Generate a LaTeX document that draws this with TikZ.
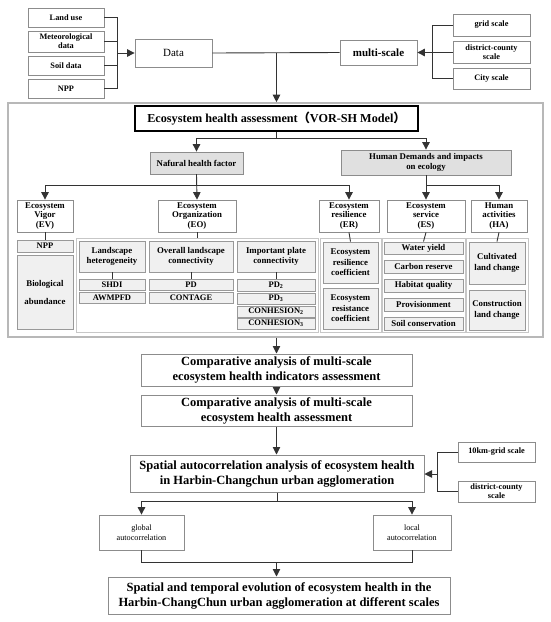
\documentclass[tikz,border=0pt]{standalone}
\usepackage{fontspec}
\setmainfont{Liberation Serif}
\newfontfamily\cjk{Noto Sans CJK SC}
\usetikzlibrary{arrows.meta}
\newcommand\fz[2]{\fontsize{#1}{#2}\selectfont}
\newcommand\bx[7]{\node[#1, minimum width={(#4-#2)*1pt}, minimum height={(#5-#3)*1pt}] (#6) at ({(#2+#4)/2},{(#3+#5)/2}) {#7};}
\tikzset{
  ln/.style={draw=black!80, line width=0.9pt},
  arr/.style={ln, -{Triangle[length=7.5pt,width=7.5pt]}},
  base/.style={inner sep=0pt, align=center, line width=0.8pt},
  inbox/.style={base, draw=black!45, fill=white, font=\fz{8.3}{9}\bfseries},
  lvl/.style={base, draw=black!45, fill=white, font=\fz{8.8}{9.8}\bfseries},
  gbox/.style={base, draw=black!45, fill=black!12, font=\fz{8.8}{10.5}\bfseries},
  panel/.style={base, draw=black!22, line width=1pt},
  item/.style={base, draw=black!40, fill=black!6, line width=0.9pt, font=\fz{8.5}{9.5}\bfseries},
  itemb/.style={item, font=\fz{8.8}{10.5}\bfseries},
  big/.style={base, draw=black!45, line width=1pt, fill=white, font=\fz{12.5}{15}\bfseries},
  frame/.style={base, draw=black!28, line width=1.6pt},
  mainbox/.style={base, draw=black, line width=1.6pt, fill=white, font=\fz{12.2}{13}\bfseries},
}
\begin{document}
\begin{tikzpicture}[x=1pt,y=-1pt]
\useasboundingbox (0,0) rectangle (550,622);
% inputs
\bx{inbox}{28}{8}{104}{27}{land}{Land use}
\bx{inbox}{28}{31}{104}{52}{met}{Meteorological\\data}
\bx{inbox}{28}{56}{104}{75}{soil}{Soil data}
\bx{inbox}{28}{79}{104}{98}{npp}{NPP}
\bx{base, draw=black!45, fill=white, font=\fz{11}{13}}{135}{39}{212}{67}{data}{Data}
\bx{base, draw=black!45, fill=white, font=\fz{11}{13}\bfseries}{340}{40}{417}{65}{ms}{multi-scale}
\bx{inbox}{453}{14}{530}{36}{grid}{grid scale}
\bx{inbox}{453}{41}{530}{63}{dc}{district-county\\scale}
\bx{inbox}{453}{68}{530}{89}{city}{City scale}
% frame
\bx{frame}{8}{103}{543}{337}{frame}{}
\bx{mainbox}{135}{106}{418}{131}{main}{Ecosystem health assessment{\cjk （}VOR-SH Model{\cjk ）}}
\bx{gbox}{150}{152}{243}{174}{nat}{Nafural health factor}
\bx{gbox}{341}{150}{511}{175}{hum}{Human Demands and impacts\\on ecology}
% level 3
\bx{lvl}{17}{200}{73}{232}{ev}{Ecosystem\\Vigor\\(EV)}
\bx{lvl}{158}{200}{236}{232}{eo}{Ecosystem\\Organization\\(EO)}
\bx{lvl}{319}{200}{379}{232}{er}{Ecosystem\\resilience\\(ER)}
\bx{lvl}{387}{200}{465}{232}{es}{Ecosystem\\service\\(ES)}
\bx{lvl}{471}{200}{527}{232}{ha}{Human\\activities\\(HA)}
% EV
\bx{item}{17}{240}{73}{252}{npp2}{NPP}
\bx{item, font=\fz{8.8}{18}\bfseries}{17}{255}{73}{329}{bio}{Biological\\abundance}
% EO
\bx{panel}{76}{238}{318}{332}{eop}{}
\bx{itemb}{79}{241}{145}{272}{lh}{Landscape\\heterogeneity}
\bx{item}{79}{279}{145}{290}{shdi}{SHDI}
\bx{item}{79}{292}{145}{303}{awm}{AWMPFD}
\bx{itemb}{149}{241}{233}{272}{olc}{Overall landscape\\connectivity}
\bx{item}{149}{279}{233}{290}{pd}{PD}
\bx{item}{149}{292}{233}{303}{cont}{CONTAGE}
\bx{itemb}{237}{241}{315}{272}{ipc}{Important plate\\connectivity}
\bx{item}{237}{279}{315}{291}{pdb}{PD\textsubscript{2}}
\bx{item}{237}{293}{315}{304}{pdc}{PD\textsubscript{3}}
\bx{item}{237}{306}{315}{317}{conb}{CONHESION\textsubscript{2}}
\bx{item}{237}{318}{315}{329}{conc}{CONHESION\textsubscript{3}}
% ER
\bx{panel}{320}{238}{381}{332}{erp}{}
\bx{itemb}{323}{242}{378}{283}{res}{Ecosystem\\resilience\\coefficient}
\bx{itemb}{323}{288}{378}{329}{rst}{Ecosystem\\resistance\\coefficient}
% ES
\bx{panel}{382}{238}{465}{332}{esp}{}
\bx{itemb}{384}{242}{463}{254}{wy}{Water yield}
\bx{itemb}{384}{260}{463}{273}{cr}{Carbon reserve}
\bx{itemb}{384}{279}{463}{292}{hq}{Habitat quality}
\bx{itemb}{384}{298}{463}{311}{pv}{Provisionment}
\bx{itemb}{384}{317}{463}{330}{sc}{Soil conservation}
% HA
\bx{panel}{466}{238}{528}{332}{hap}{}
\bx{itemb}{469}{242}{525}{284}{cl}{Cultivated\\land change}
\bx{itemb}{469}{290}{525}{330}{cn}{Construction\\land change}
% lower part
\bx{big}{141}{354}{412}{386}{comp1}{Comparative analysis of multi-scale\\ecosystem health indicators assessment}
\bx{big}{141}{395}{412}{426}{comp2}{Comparative analysis of multi-scale\\ecosystem health assessment}
\bx{big}{130}{455}{424}{492}{sp}{Spatial autocorrelation analysis of ecosystem health\\in Harbin-Changchun urban agglomeration}
\bx{inbox}{458}{442}{535}{462}{km}{10km-grid scale}
\bx{inbox}{458}{481}{535}{502}{dcs}{district-county\\scale}
\bx{inbox, font=\fz{8.2}{10.5}}{99}{515}{184}{550}{glob}{global\\autocorrelation}
\bx{inbox, font=\fz{8.2}{10.5}}{373}{515}{451}{550}{loc}{local\\autocorrelation}
\bx{big}{108}{577}{450}{614}{fin}{Spatial and temporal evolution of ecosystem health in the\\Harbin-ChangChun urban agglomeration at different scales}
% connectors top
\coordinate (dj) at (117,53);
\draw[ln] (land.east) -| (dj);
\draw[ln] (npp.east) -| (dj);
\draw[ln] (met.east) -- (met.east -| dj);
\draw[ln] (soil.east) -- (soil.east -| dj);
\draw[arr] (dj) -- (data.west);
\coordinate (mj) at (432,52.5);
\draw[ln] (grid.west) -| (mj);
\draw[ln] (city.west) -| (mj);
\draw[ln] (dc.west) -- (dc.west -| mj);
\draw[arr] (mj) -- (ms.east);
\draw[ln] (data.east) -- (ms.west);
\coordinate (tj) at (276.5,53);
\draw[arr] (tj) -- (tj |- frame.north);
% inside frame
\draw[arr] (main.south) -- ++(0,7) -| (nat.north);
\draw[arr] (main.south) -- ++(0,7) -| (hum.north);
\coordinate (h2) at (0,185);
\draw[arr] (nat.south) -- (nat.south |- h2) -| (ev.north);
\draw[arr] (nat.south) -- (eo.north);
\draw[arr] (nat.south |- h2) -| (er.north);
\draw[arr] (hum.south) -- (es.north);
\draw[arr] (hum.south |- h2) -| (ha.north);
\draw[ln] (ev.south) -- (npp2.north);
\draw[ln] (eo.south) -- (eop.north -| eo.south);
\draw[ln] (lh.south) -- (shdi.north);
\draw[ln] (olc.south) -- (pd.north);
\draw[ln] (ipc.south) -- (pdb.north);
\draw[ln] (er.south) -- (res.north);
\draw[ln] (es.south) -- (wy.north);
\draw[ln] (ha.south) -- (cl.north);
% lower connectors
\draw[arr] (comp1.north |- frame.south) -- (comp1.north);
\draw[arr] (comp1.south) -- (comp2.north);
\draw[arr] (comp2.south) -- (comp2.south |- sp.north);
\coordinate (kj) at (437,474);
\draw[ln] (km.west) -| (kj);
\draw[ln] (dcs.west) -| (kj);
\draw[arr] (kj) -- (kj -| sp.east);
\draw[arr] (sp.south) -- ++(0,9) -| (glob.north);
\draw[arr] (sp.south) -- ++(0,9) -| (loc.north);
\coordinate (fj) at (276.5,562);
\draw[ln] (glob.south) |- (fj);
\draw[ln] (loc.south) |- (fj);
\draw[arr] (fj) -- (fj |- fin.north);
\end{tikzpicture}
\end{document}
